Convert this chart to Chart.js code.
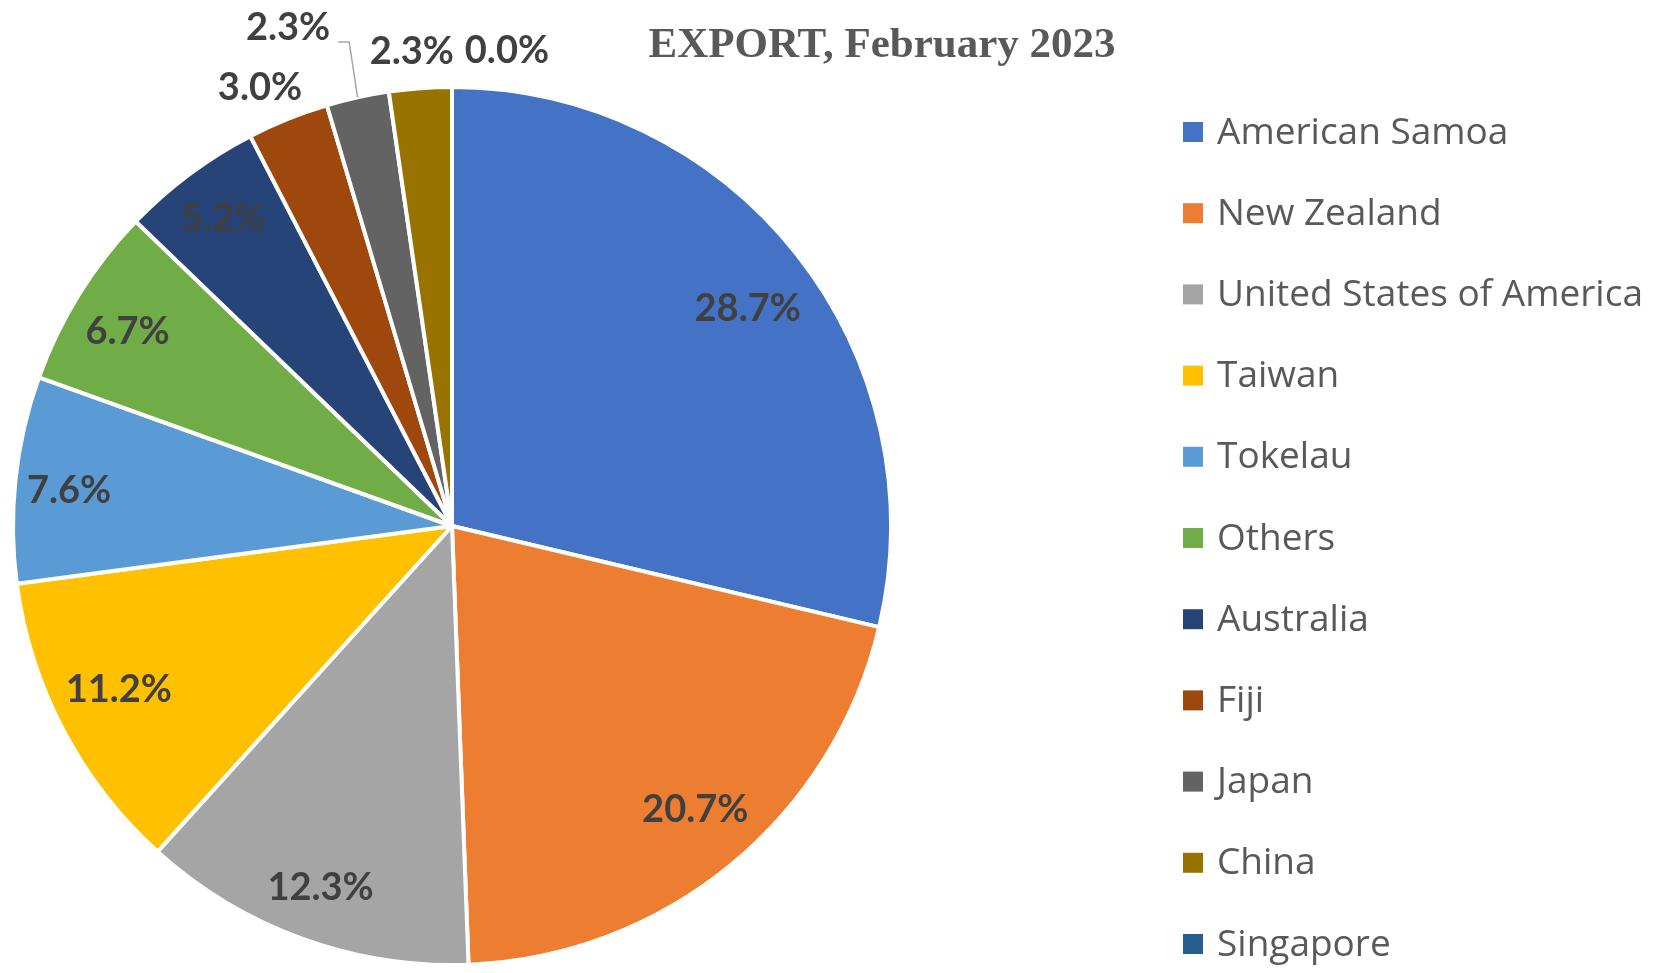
<!DOCTYPE html>
<html>
<head>
<meta charset="utf-8">
<title>EXPORT, February 2023</title>
<script src="https://cdn.jsdelivr.net/npm/chart.js@4.4.0/dist/chart.umd.min.js"></script>
<style>
  html, body { margin: 0; padding: 0; background: #fff; }
  canvas { display: block; }
</style>
</head>
<body>
<canvas id="export-chart" width="1664" height="973"></canvas>
<script>
/* ── Data ───────────────────────────── */
const chartTitle = 'EXPORT, February 2023';
const countries  = ['American Samoa', 'New Zealand', 'United States of America', 'Taiwan', 'Tokelau',
                    'Others', 'Australia', 'Fiji', 'Japan', 'China', 'Singapore'];
const shares     = [28.7, 20.7, 12.3, 11.2, 7.6, 6.7, 5.2, 3.0, 2.3, 2.3, 0.0];
const colours    = ['#4472C4', '#ED7D31', '#A5A5A5', '#FFC000', '#5B9BD5', '#70AD47',
                    '#264478', '#9E480E', '#636363', '#997300', '#255E91'];

/* label placement per slice: [radius factor, angle shift (deg)] */
const labelPlace = [[0.84, 2], [0.855, -1.2], [0.88, 0], [0.85, 1.5], [0.88, -0.9], [0.865, -1],
                    [0.877, 0], [1.095, -1.7], [1.2, -5.8], [1.09, -0.7], [1.094, 6.6]];
const leaderLine = [false, false, false, false, false, false, false, false, true, false, false];

const TEXT_GREY  = '#595959';
const LABEL_GREY = '#404040';

/* ── Title, legend and data labels ─── */
const excelDecor = {
  id: 'excelDecor',
  afterDatasetsDraw(chart) {
    const ctx  = chart.ctx;
    const arcs = chart.getDatasetMeta(0).data;
    ctx.save();

    // data labels
    ctx.font = 'bold 38px Lato';
    ctx.fillStyle = LABEL_GREY;
    ctx.textAlign = 'center';
    ctx.textBaseline = 'middle';
    arcs.forEach((arc, i) => {
      const { x, y, startAngle, endAngle, outerRadius } = arc.getProps(['x', 'y', 'startAngle', 'endAngle', 'outerRadius'], true);
      const [k, shift] = labelPlace[i];
      const r   = outerRadius - 2;
      const mid = (startAngle + endAngle) / 2;
      const a   = mid + shift * Math.PI / 180;
      const lx  = x + Math.cos(a) * r * k;
      const ly  = y + Math.sin(a) * r * k;
      const txt = shares[i].toFixed(1) + '%';
      ctx.fillText(txt, lx, ly);

      if (leaderLine[i]) {
        const right = lx + ctx.measureText(txt).width / 2;
        const by = ly + 14;
        ctx.beginPath();
        ctx.strokeStyle = '#A6A6A6';
        ctx.lineWidth = 1.5;
        ctx.moveTo(right + 8, by);
        ctx.lineTo(right + 19, by);
        ctx.lineTo(x + Math.cos(mid) * outerRadius, y + Math.sin(mid) * outerRadius);
        ctx.stroke();
      }
    });

    // title
    ctx.font = 'bold 43px "Liberation Serif"';
    ctx.fillStyle = TEXT_GREY;
    ctx.textBaseline = 'alphabetic';
    ctx.fillText(chartTitle, 882, 57);

    // legend
    ctx.textAlign = 'left';
    ctx.textBaseline = 'middle';
    ctx.font = '37px "Open Sans"';
    countries.forEach((name, i) => {
      const cy = 132 + i * 81.2;
      ctx.fillStyle = colours[i];
      ctx.fillRect(1183, cy - 10, 20, 20);
      ctx.fillStyle = TEXT_GREY;
      ctx.fillText(name, 1217, cy + 1);
    });

    ctx.restore();
  },
};

function drawChart() {
  new Chart(document.getElementById('export-chart'), {
    type: 'pie',
    data: {
      labels: countries,
      datasets: [{
        data: shares,
        backgroundColor: colours,
        borderColor: '#ffffff',
        borderWidth: 4,
      }],
    },
    options: {
      responsive: false,
      animation: false,
      layout: { padding: { left: 11, right: 771, top: 85, bottom: 6 } },
      plugins: {
        legend: { display: false },
        tooltip: { enabled: false },
      },
    },
    plugins: [excelDecor],
  });
}

Promise.all([
  document.fonts.load('bold 38px Lato'),
  document.fonts.load('37px "Open Sans"'),
  document.fonts.load('bold 43px "Liberation Serif"'),
]).then(drawChart, drawChart);
</script>
</body>
</html>
